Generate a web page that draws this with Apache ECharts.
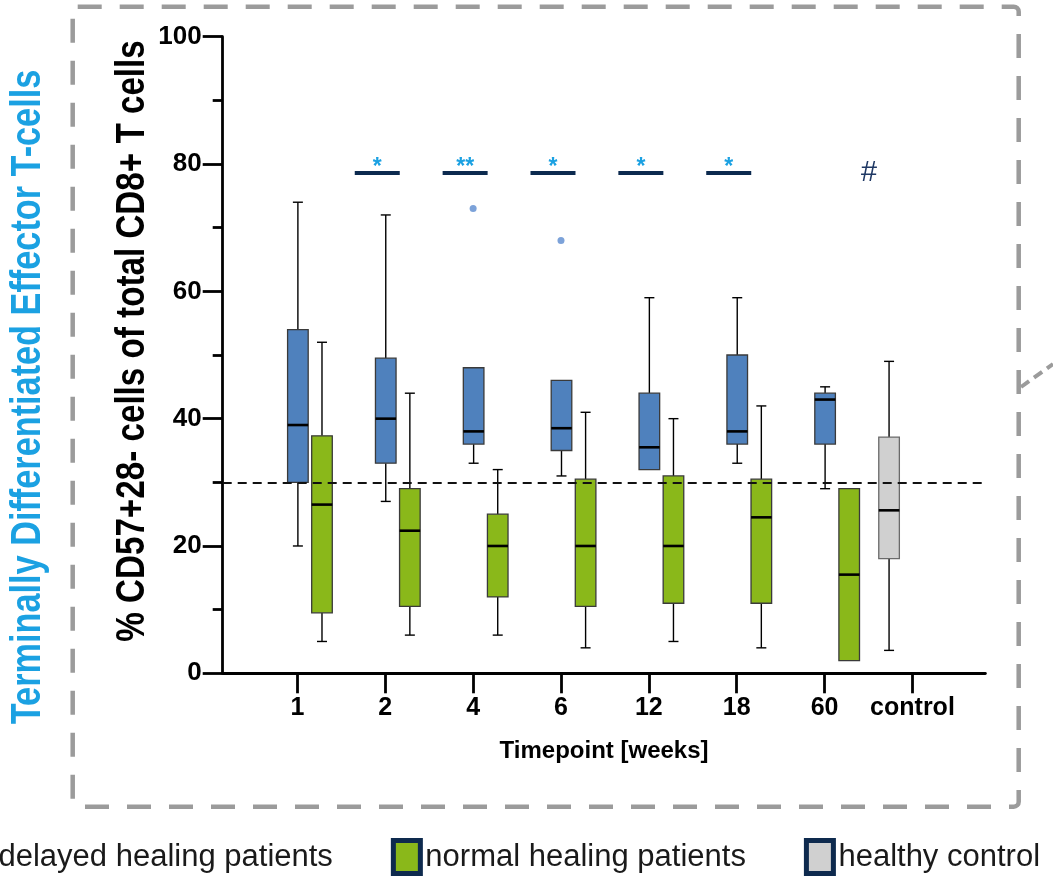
<!DOCTYPE html>
<html lang="en">
<head>
<meta charset="UTF-8">
<title>CD57+28- cells of total CD8+ T cells</title>
<script src="https://cdn.jsdelivr.net/npm/echarts@6/dist/echarts.min.js"></script>
<style>html,body{margin:0;padding:0;background:#fff;}</style>
</head>
<body>
<div id="main" style="width:1053px;height:876px;"></div>
<script>
var categories = ['1', '2', '4', '6', '12', '18', '60', 'control'];

// box statistics per timepoint: [min, Q1, median, Q3, max]
var delayed = [
    [20, 30, 39, 54, 74],
    [27, 33, 40, 49.5, 72],
    [33, 36, 38, 48, 48],
    [31, 35, 38.5, 46, 46],
    [32, 32, 35.5, 44, 59],
    [33, 36, 38, 50, 59],
    [29, 36, 43, 44, 45]
];
var normal = [
    [5, 9.5, 26.5, 37.3, 52],
    [6, 10.5, 22.4, 29, 44],
    [6, 12, 20, 25, 32],
    [4, 10.5, 20, 30.5, 41],
    [5, 11, 20, 31, 40],
    [4, 11, 24.5, 30.5, 42],
    [2, 2, 15.5, 29, 29]
];
var control = [[3.6, 18, 25.6, 37.1, 49]];
var controlIdx = [7];

var outlierIdx = [2, 3];
var outlierVal = [73, 68];

var sigIdx = [1, 2, 3, 4, 5];
var sigMark = ['*', '**', '*', '*', '*'];
var sigLevel = 78.6;
var hashPos = 6.5;
var refLevel = 30;

var myChart = echarts.init(document.getElementById('main'));

var FONT = '"Liberation Sans", Arial, sans-serif';

function toRows(stats, idx) {
    return stats.map(function (s, i) {
        return [idx ? idx[i] : i].concat(s);
    });
}

function boxRender(offset, edge) {
    return function (params, api) {
        var x = api.value(0);
        var p = [1, 2, 3, 4, 5].map(function (d) {
            return api.coord([x, api.value(d)]);
        });
        var cx = p[0][0] + offset;
        var hw = 10.3, cap = 5;
        var ws = { stroke: '#000', lineWidth: 1.4 };
        var kids = [];
        if (p[4][1] < p[3][1] - 0.5) {
            kids.push({ type: 'line', shape: { x1: cx, y1: p[4][1], x2: cx, y2: p[3][1] }, style: ws });
            kids.push({ type: 'line', shape: { x1: cx - cap, y1: p[4][1], x2: cx + cap, y2: p[4][1] }, style: ws });
        }
        if (p[0][1] > p[1][1] + 0.5) {
            kids.push({ type: 'line', shape: { x1: cx, y1: p[1][1], x2: cx, y2: p[0][1] }, style: ws });
            kids.push({ type: 'line', shape: { x1: cx - cap, y1: p[0][1], x2: cx + cap, y2: p[0][1] }, style: ws });
        }
        kids.push({
            type: 'rect',
            shape: { x: cx - hw, y: p[3][1], width: hw * 2, height: p[1][1] - p[3][1] },
            style: { fill: api.visual('color'), stroke: edge, lineWidth: 1.3 }
        });
        kids.push({
            type: 'line',
            shape: { x1: cx - hw, y1: p[2][1], x2: cx + hw, y2: p[2][1] },
            style: { stroke: '#000', lineWidth: 2.6 }
        });
        return { type: 'group', children: kids };
    };
}

function sigRender(params, api) {
    var pt = api.coord([api.value(0), api.value(1)]);
    var cx = pt[0] - 8;
    return {
        type: 'group',
        children: [
            { type: 'line', shape: { x1: cx - 22.5, y1: pt[1], x2: cx + 22.5, y2: pt[1] },
              style: { stroke: '#0c2a4f', lineWidth: 4 } },
            { type: 'text', style: { text: sigMark[params.dataIndex], x: cx, y: pt[1] - 5,
              align: 'center', verticalAlign: 'middle', fill: '#1ba1e2', font: 'bold 23px ' + FONT } }
        ]
    };
}

function hashRender(params, api) {
    var pt = api.coord([api.value(0), api.value(1)]);
    return {
        type: 'text',
        style: { text: '#', x: pt[0], y: pt[1], align: 'center', verticalAlign: 'middle',
                 fill: '#1f3864', font: 'italic 29px ' + FONT }
    };
}

var option = {
    animation: false,
    grid: { left: 222.7, right: 67.6, top: 36.7, bottom: 202.7 },
    legend: {
        left: -36,
        top: 838,
        padding: 0,
        width: 1200,
        itemGap: 58,
        itemWidth: 27,
        itemHeight: 33,
        icon: 'rect',
        selectedMode: false,
        itemStyle: { borderColor: '#0e2a4e', borderWidth: 5 },
        textStyle: { fontSize: 31, color: '#1a1a1a', fontFamily: FONT },
        data: [
            { name: 'delayed healing patients', itemStyle: { color: '#4f81bd' } },
            { name: 'normal healing patients', itemStyle: { color: '#8ab81a' } },
            { name: 'healthy control', itemStyle: { color: '#d0d0d0' } }
        ]
    },
    xAxis: {
        type: 'value',
        min: -0.85,
        max: 7.83,
        name: 'Timepoint [weeks]',
        nameLocation: 'middle',
        nameGap: 66,
        nameTextStyle: { fontSize: 24, fontWeight: 'bold', color: '#000', fontFamily: FONT },
        splitLine: { show: false },
        axisLine: { onZero: false, lineStyle: { color: '#000', width: 2.8 } },
        axisTick: { customValues: [0, 1, 2, 3, 4, 5, 6, 7], length: 20, lineStyle: { color: '#000', width: 2.8 } },
        axisLabel: {
            customValues: [0, 1, 2, 3, 4, 5, 6, 7],
            margin: 22,
            fontSize: 25, fontWeight: 'bold', color: '#000', fontFamily: FONT,
            formatter: function (v) { return categories[Math.round(v)]; }
        }
    },
    yAxis: {
        type: 'value',
        min: 0,
        max: 100,
        interval: 20,
        splitLine: { show: false },
        axisLine: { show: true, onZero: false, lineStyle: { color: '#000', width: 2.8 } },
        axisTick: { show: true, length: 20, lineStyle: { color: '#000', width: 2.8 } },
        minorTick: { show: true, splitNumber: 2, length: 10, lineStyle: { color: '#000', width: 2.8 } },
        axisLabel: { margin: 21, fontSize: 26, fontWeight: 'bold', color: '#000', fontFamily: FONT }
    },
    graphic: [
        { type: 'rect', shape: { x: 72.7, y: 6.7, width: 946, height: 800, r: 5 },
          style: { fill: 'none', stroke: '#9b9b9b', lineWidth: 4.5, lineDash: [24, 18] } },
        { type: 'line', shape: { x1: 1021, y1: 387, x2: 1053, y2: 364 },
          style: { stroke: '#9b9b9b', lineWidth: 4, lineDash: [10, 6] } },
        { type: 'text', x: 133, y: 341, rotation: Math.PI / 2, scaleX: 0.83,
          style: { text: '% CD57+28- cells of total CD8+ T cells', align: 'center', verticalAlign: 'middle',
                   fill: '#000', font: 'bold 40px ' + FONT } },
        { type: 'text', x: 28, y: 397, rotation: Math.PI / 2, scaleX: 0.82,
          style: { text: 'Terminally Differentiated Effector T-cells', align: 'center', verticalAlign: 'middle',
                   fill: '#1ba1e2', font: 'bold 41.8px ' + FONT } }
    ],
    series: [
        {
            name: 'healthy control', type: 'custom',
            itemStyle: { color: '#d0d0d0' },
            renderItem: boxRender(-23.4, '#6a6a6a'),
            encode: { x: 0, y: [1, 2, 3, 4, 5] },
            data: toRows(control, controlIdx)
        },
        {
            name: 'delayed healing patients', type: 'custom',
            itemStyle: { color: '#4f81bd' },
            renderItem: boxRender(0.5, '#3a3a3a'),
            encode: { x: 0, y: [1, 2, 3, 4, 5] },
            data: toRows(delayed)
        },
        {
            name: 'normal healing patients', type: 'custom',
            itemStyle: { color: '#8ab81a' },
            renderItem: boxRender(24.6, '#3a3a3a'),
            encode: { x: 0, y: [1, 2, 3, 4, 5] },
            data: toRows(normal)
        },
        {
            name: 'outliers', type: 'scatter',
            symbolSize: 7,
            itemStyle: { color: '#5b8bd0' },
            data: outlierIdx.map(function (c, i) { return [c, outlierVal[i]]; }),
            markLine: {
                silent: true,
                symbol: 'none',
                label: { show: false },
                lineStyle: { color: '#111', width: 2, type: [9, 6] },
                data: [{ yAxis: refLevel }]
            }
        },
        {
            name: 'significance', type: 'custom',
            renderItem: sigRender,
            data: sigIdx.map(function (c) { return [c, sigLevel]; })
        },
        {
            name: 'hash', type: 'custom',
            renderItem: hashRender,
            data: [[hashPos, sigLevel]]
        }
    ]
};

myChart.setOption(option);
</script>
</body>
</html>
